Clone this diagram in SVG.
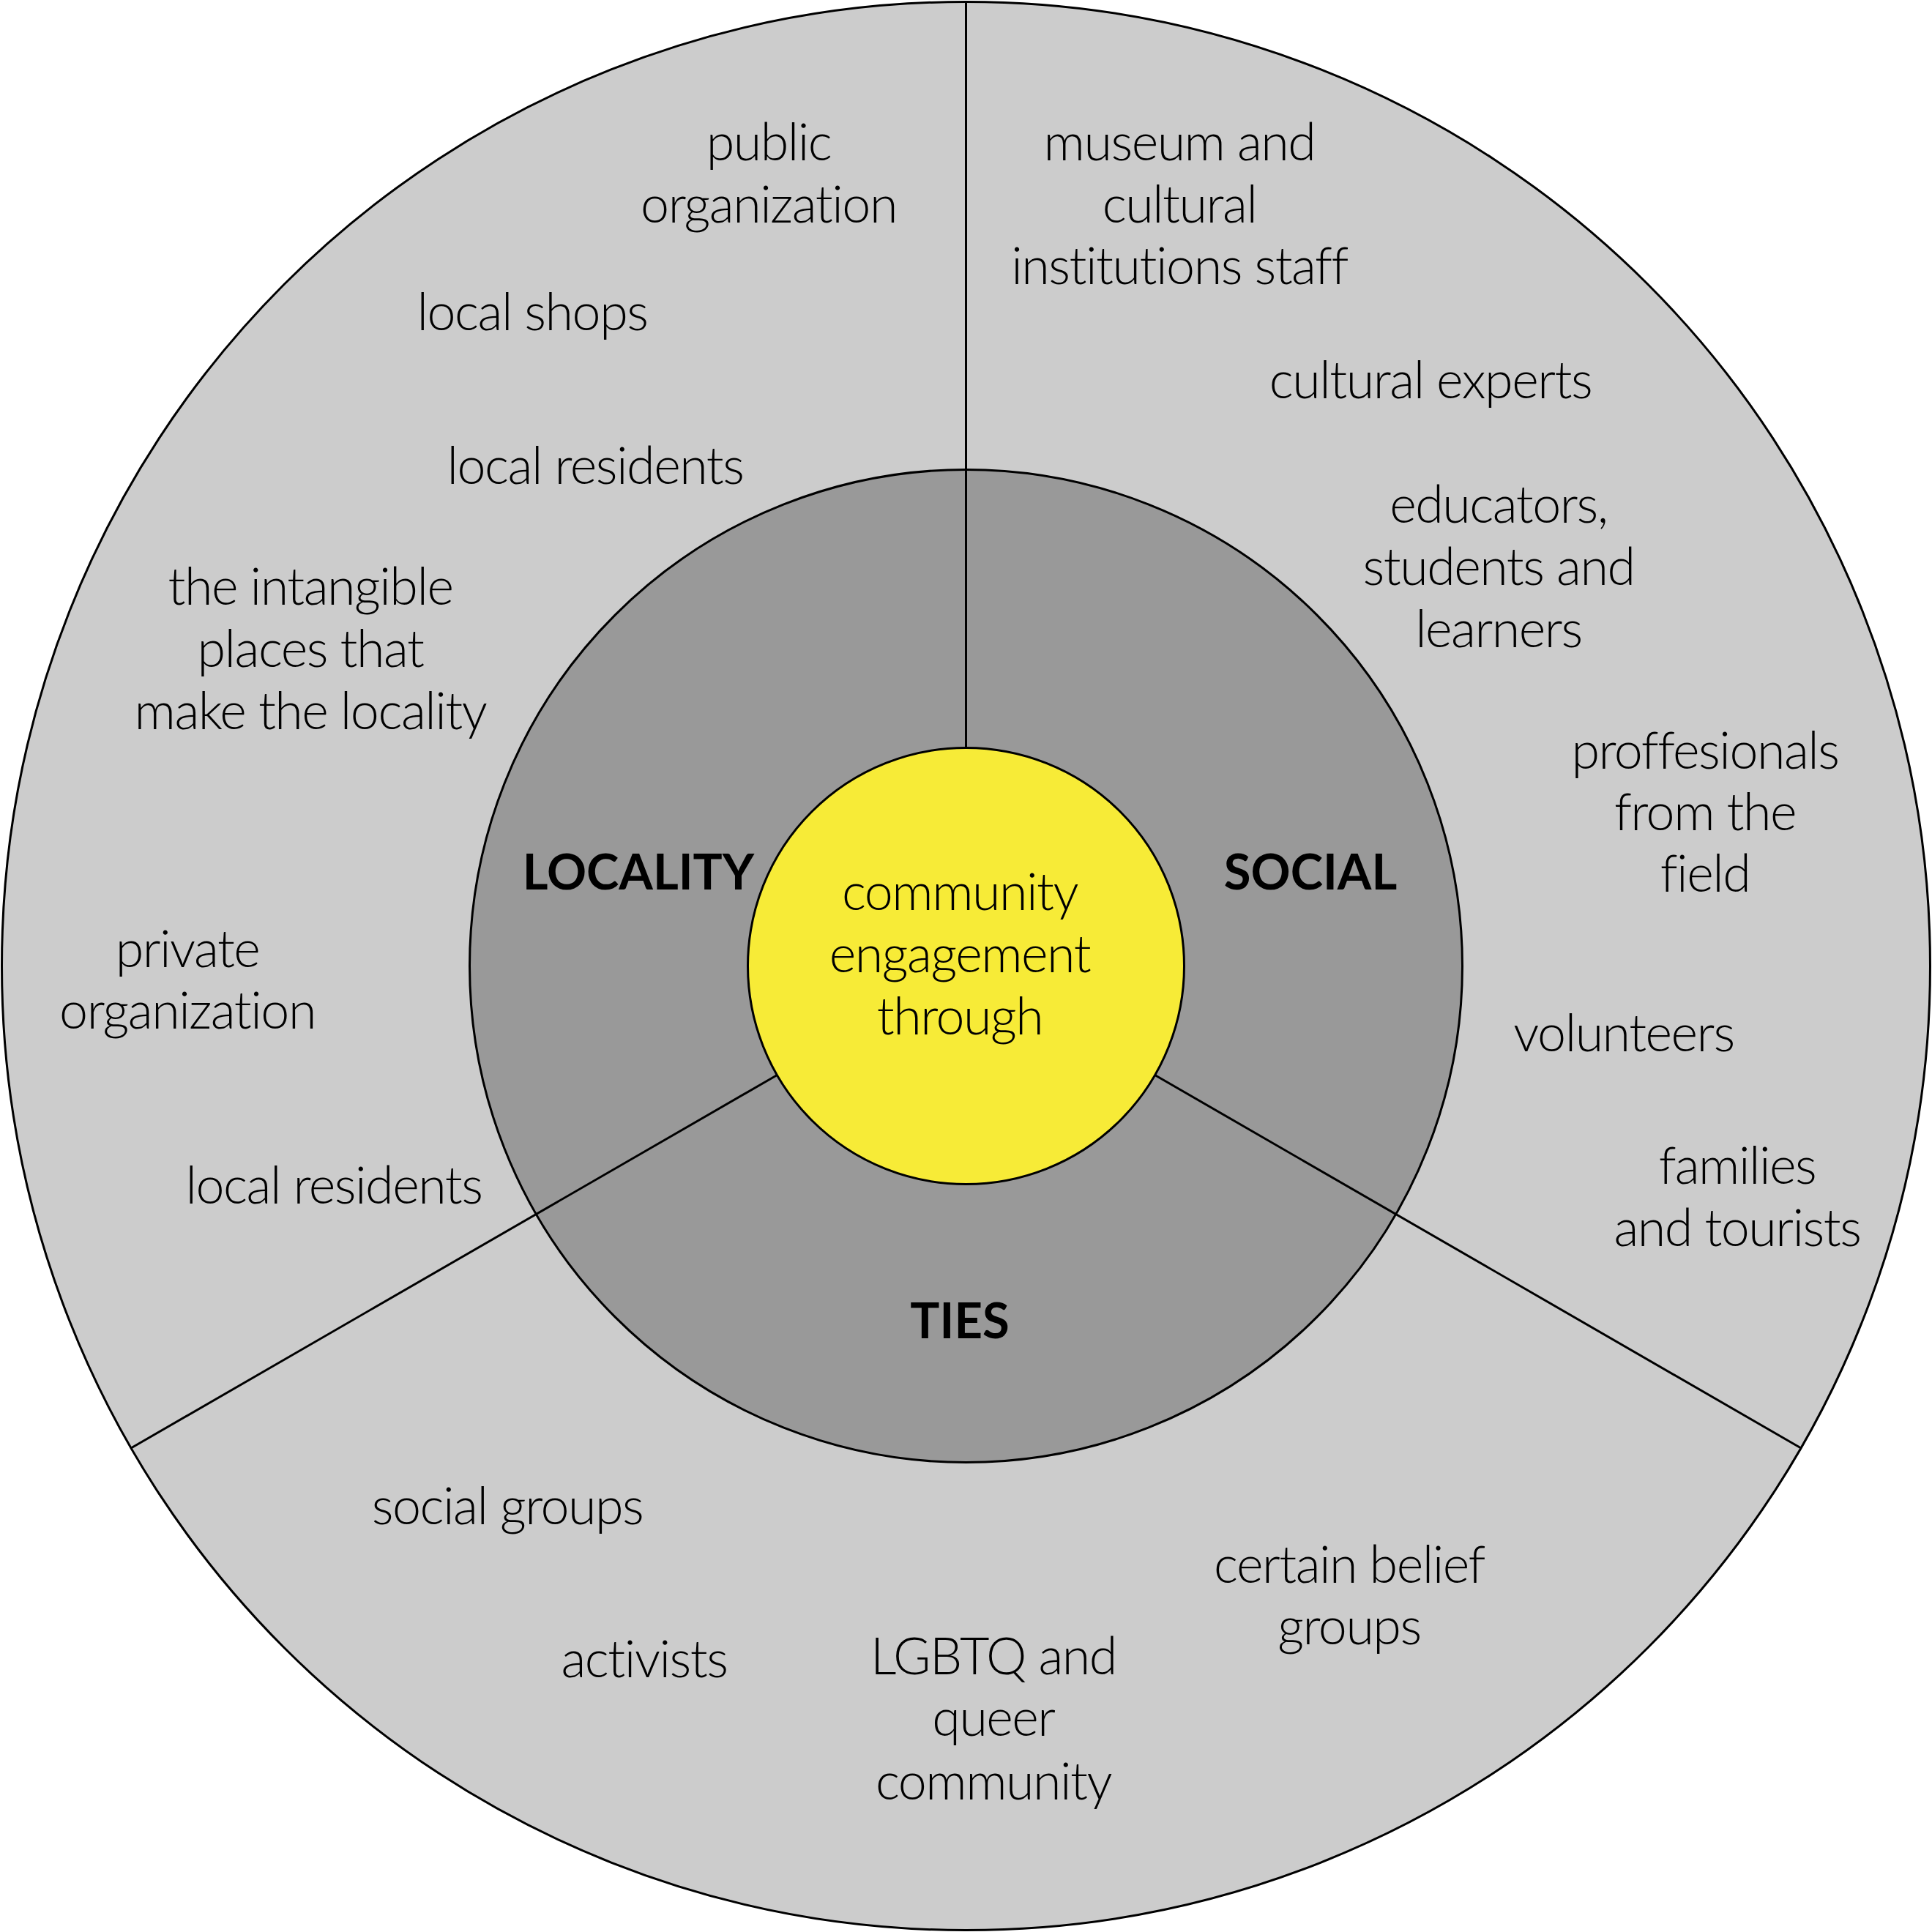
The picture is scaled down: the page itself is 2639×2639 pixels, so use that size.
<svg xmlns="http://www.w3.org/2000/svg" width="2639" height="2639" viewBox="0 0 2639 2639">
<style>
.ring{stroke:#000;stroke-width:3}
.t{font-family:Lato,"Liberation Sans",sans-serif;font-weight:300;font-size:70px;letter-spacing:-1.5px;font-variant-ligatures:none;fill:#000;text-anchor:middle}
.b{font-family:Lato,"Liberation Sans",sans-serif;font-weight:700;font-size:67px;fill:#000;text-anchor:middle}
.ln{stroke:#000;stroke-width:3;fill:none}
</style>
<rect width="2639" height="2639" fill="#fff"/>
<g id="outer-ring"><circle class="ring" cx="1319.5" cy="1319.5" r="1317" fill="#cccccc"/></g>
<g id="middle-ring"><circle class="ring" cx="1319.5" cy="1319.5" r="678" fill="#999999"/></g>
<g id="connectors">
<line class="ln" x1="1319.5" y1="2" x2="1319.5" y2="1022"/>
<line class="ln" x1="1061.4" y1="1468.5" x2="179" y2="1978"/>
<line class="ln" x1="1577.6" y1="1468.5" x2="2460" y2="1978"/>
</g>
<g id="center"><circle class="ring" cx="1319.5" cy="1319.5" r="298" fill="#f7eb37"/>
<text class="t" x="1311" y="1243">community</text>
<text class="t" x="1311" y="1328">engagement</text>
<text class="t" x="1311" y="1413">through</text>
</g>
<g id="label-locality"><text class="b" x="872" y="1215">LOCALITY</text></g>
<g id="label-social"><text class="b" x="1790" y="1215">SOCIAL</text></g>
<g id="label-ties"><text class="b" x="1311" y="1828">TIES</text></g>
<g id="locality-items">
<text class="t" x="1050" y="219">public</text>
<text class="t" x="1050" y="304">organization</text>
<text class="t" x="727" y="451">local shops</text>
<text class="t" x="813" y="661">local residents</text>
<text class="t" x="424" y="826">the intangible</text>
<text class="t" x="424" y="911">places that</text>
<text class="t" x="424" y="996">make the locality</text>
<text class="t" x="256" y="1321">private</text>
<text class="t" x="256" y="1405">organization</text>
<text class="t" x="456" y="1644">local residents</text>
</g>
<g id="social-items">
<text class="t" x="1611" y="219">museum and</text>
<text class="t" x="1611" y="304">cultural</text>
<text class="t" x="1611" y="388">institutions staff</text>
<text class="t" x="1954" y="544">cultural experts</text>
<text class="t" x="2047" y="714">educators,</text>
<text class="t" x="2047" y="799">students and</text>
<text class="t" x="2047" y="884">learners</text>
<text class="t" x="2329" y="1050">proffesionals</text>
<text class="t" x="2329" y="1134">from the</text>
<text class="t" x="2329" y="1218">field</text>
<text class="t" x="2218" y="1436">volunteers</text>
<text class="t" x="2373" y="1617">families</text>
<text class="t" x="2373" y="1702">and tourists</text>
</g>
<g id="ties-items">
<text class="t" x="693" y="2082">social groups</text>
<text class="t" x="880" y="2291">activists</text>
<text class="t" x="1357" y="2287">LGBTQ and</text>
<text class="t" x="1357" y="2371">queer</text>
<text class="t" x="1357" y="2458">community</text>
<text class="t" x="1843" y="2162">certain belief</text>
<text class="t" x="1843" y="2246">groups</text>
</g>
</svg>
